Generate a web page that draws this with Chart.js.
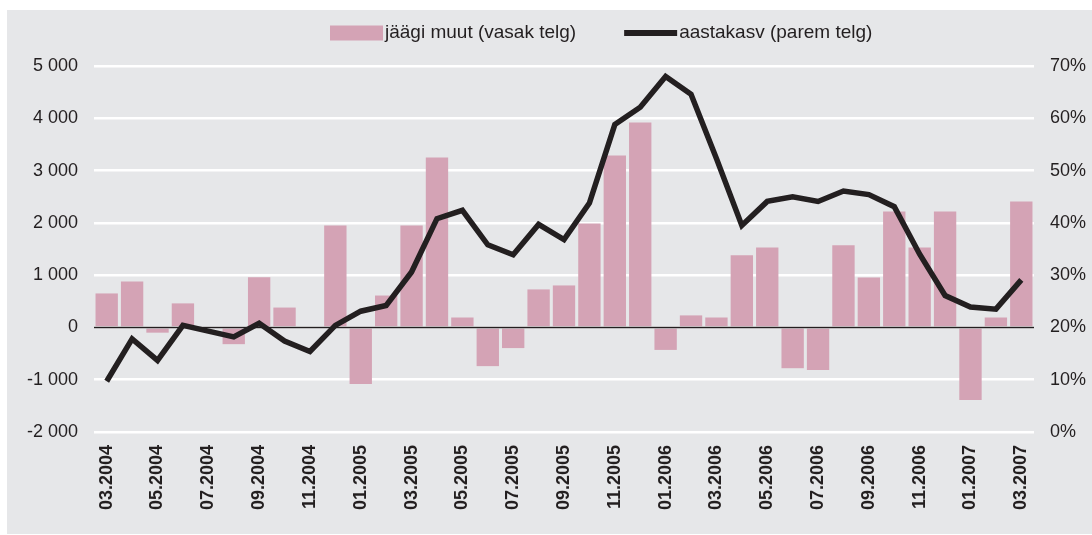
<!DOCTYPE html>
<html>
<head>
<meta charset="utf-8">
<script src="https://cdn.jsdelivr.net/npm/chart.js@4/dist/chart.umd.min.js"></script>
<style>
  html, body { margin: 0; padding: 0; background: #ffffff; }
  #panel { position: absolute; left: 7px; top: 10px; width: 1085px; height: 524px; background: #e6e7e9; }
  canvas { display: block; }
</style>
</head>
<body>
<div id="panel"><canvas id="c" width="1085" height="524"></canvas></div>
<script>
const categories = [
  "03.2004","04.2004","05.2004","06.2004","07.2004","08.2004","09.2004","10.2004","11.2004","12.2004",
  "01.2005","02.2005","03.2005","04.2005","05.2005","06.2005","07.2005","08.2005","09.2005","10.2005","11.2005","12.2005",
  "01.2006","02.2006","03.2006","04.2006","05.2006","06.2006","07.2006","08.2006","09.2006","10.2006","11.2006","12.2006",
  "01.2007","02.2007","03.2007"
];
const otherChanges = [
  650, 880, -100, 460, 0, -320, 960, 380, 0, 1950,
  -1080, 610, 1950, 3250, 190, -740, -395, 727, 803, 1990, 3290, 3920,
  -430, 230, 190, 1380, 1530, -780, -815, 1570, 956, 2218, 1530, 2218,
  -1390, 190, 2410
];
const annualGrowth = [
  9.7, 17.8, 13.7, 20.4, 19.3, 18.2, 20.8, 17.4, 15.4, 20.4,
  23.1, 24.2, 30.6, 40.8, 42.4, 35.8, 33.9, 39.7, 36.8, 43.8, 58.8, 62.1,
  68.0, 64.6, 52.3, 39.5, 44.1, 45.0, 44.1, 46.1, 45.4, 43.1, 34.0, 26.1,
  23.9, 23.5, 29.1
];
const leftTicks = { min: -2000, max: 5000, step: 1000 };
const rightTicks = { min: 0, max: 70, step: 10 };
const seriesNames = ["jäägi muut (vasak telg)", "aastakasv (parem telg)"];

const FONT = "'Liberation Sans', Arial, Helvetica, sans-serif";
const DARK = "#231f20";
const PINK = "#d4a3b5";

function fmtThousands(v) {
  const s = String(Math.abs(v)).replace(/\B(?=(\d{3})+(?!\d))/g, " ");
  return (v < 0 ? "-" : "") + s;
}

const zeroLine = {
  id: "zeroLine",
  afterDatasetDraw(chart, args) {
    if (args.index !== 0) return;
    const y = Math.round(chart.scales.y.getPixelForValue(0)) + 0.5;
    const a = chart.chartArea;
    const ctx = chart.ctx;
    ctx.save();
    ctx.strokeStyle = DARK;
    ctx.lineWidth = 1.5;
    ctx.beginPath();
    ctx.moveTo(a.left, y);
    ctx.lineTo(a.right, y);
    ctx.stroke();
    ctx.restore();
  }
};

const customLegend = {
  id: "customLegend",
  afterDraw(chart) {
    const ctx = chart.ctx;
    const ds = chart.data.datasets;
    ctx.save();
    ctx.font = "19px " + FONT;
    ctx.textBaseline = "middle";
    ctx.textAlign = "left";
    const cy = 23;
    let x = 323;
    ctx.fillStyle = ds[0].backgroundColor;
    ctx.fillRect(x, cy - 7.5, 53, 15);
    x += 55;
    ctx.fillStyle = DARK;
    ctx.fillText(ds[0].label, x, cy);
    x += ctx.measureText(ds[0].label).width + 48;
    ctx.strokeStyle = ds[1].borderColor;
    ctx.lineWidth = 6;
    ctx.beginPath();
    ctx.moveTo(x, cy);
    ctx.lineTo(x + 53, cy);
    ctx.stroke();
    x += 55;
    ctx.fillText(ds[1].label, x, cy);
    ctx.restore();
  }
};

new Chart(document.getElementById("c"), {
  data: {
    labels: categories,
    datasets: [
      {
        type: "bar",
        label: seriesNames[0],
        data: otherChanges,
        backgroundColor: PINK,
        borderWidth: 0,
        barPercentage: 0.88,
        categoryPercentage: 1.0,
        yAxisID: "y",
        order: 1
      },
      {
        type: "line",
        label: seriesNames[1],
        data: annualGrowth,
        borderColor: DARK,
        backgroundColor: DARK,
        borderWidth: 5.5,
        pointRadius: 0,
        tension: 0,
        fill: false,
        yAxisID: "y1",
        order: 0
      }
    ]
  },
  options: {
    responsive: false,
    animation: false,
    layout: { padding: { top: 56, left: 0, right: 0, bottom: 0 } },
    plugins: {
      legend: { display: false },
      tooltip: { enabled: false }
    },
    scales: {
      x: {
        offset: true,
        grid: { display: false, drawTicks: false },
        border: { display: false },
        ticks: {
          autoSkip: false,
          maxRotation: 90,
          minRotation: 90,
          padding: 13,
          color: DARK,
          font: { family: FONT, size: 18, weight: "bold" },
          callback: function (value, index) {
            return index % 2 === 0 ? categories[index] : "";
          }
        },
        afterFit(scale) { scale.height = 102; }
      },
      y: {
        position: "left",
        min: leftTicks.min,
        max: leftTicks.max,
        grid: { color: "#ffffff", lineWidth: 2.5, drawTicks: false },
        border: { display: false },
        ticks: {
          stepSize: leftTicks.step,
          padding: 16,
          color: DARK,
          font: { family: FONT, size: 18 },
          callback: function (v) { return fmtThousands(v); }
        },
        afterFit(scale) { scale.width = 87; }
      },
      y1: {
        position: "right",
        min: rightTicks.min,
        max: rightTicks.max,
        grid: { display: false, drawTicks: false },
        border: { display: false },
        ticks: {
          stepSize: rightTicks.step,
          padding: 16,
          color: DARK,
          font: { family: FONT, size: 18 },
          callback: function (v) { return v + "%"; }
        },
        afterFit(scale) { scale.width = 58; }
      }
    }
  },
  plugins: [zeroLine, customLegend]
});
</script>
</body>
</html>
